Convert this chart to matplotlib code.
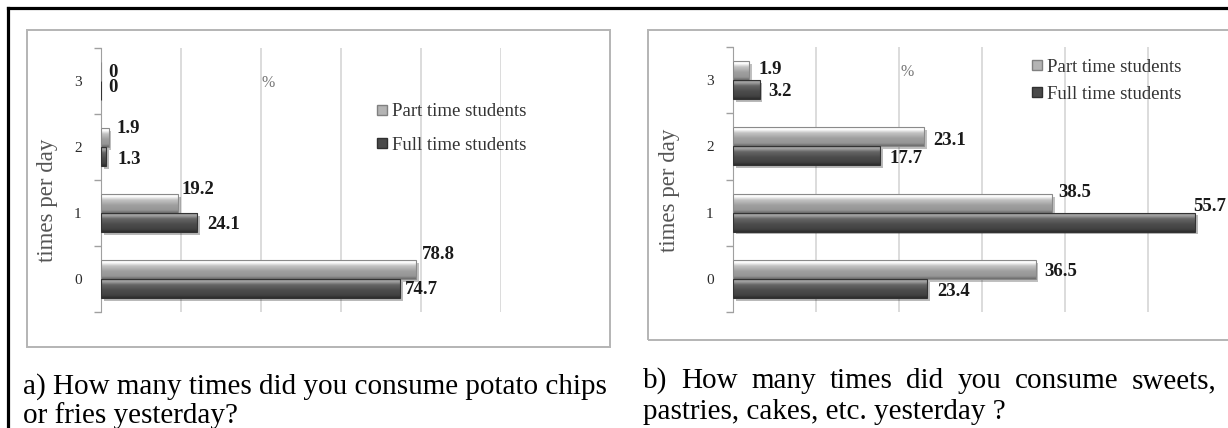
import numpy as np
import matplotlib.pyplot as plt
import matplotlib.patheffects as pe
from matplotlib.colors import LinearSegmentedColormap
from matplotlib.lines import Line2D
from matplotlib.patches import Rectangle

plt.rcParams['font.family'] = ['Liberation Serif', 'DejaVu Serif']

W, H = 1228, 428

# --- Data ---
categories   = ["0", "1", "2", "3"]
series_names = ["Part time students", "Full time students"]
chips_part   = [78.8, 19.2, 1.9, 0.0]
chips_full   = [74.7, 24.1, 1.3, 0.0]
sweets_part  = [36.5, 38.5, 23.1, 1.9]
sweets_full  = [23.4, 55.7, 17.7, 3.2]
caption_a = ["a) How many times did you consume potato chips", "or fries yesterday?"]
caption_b = ["b) How many times did you consume sweets,", "pastries, cakes, etc. yesterday ?"]

# label nudges in pixels (dx from bar end, dy from bar centre)
chips_part_off  = [(6, 15), (4, 14), (8, 9.5), (7, -0.5)]
chips_full_off  = [(5, -1), (10, -2), (11, -3.5), (7, 2.5)]
sweets_part_off = [(9, -1.7), (6, 11), (8.5, -3.5), (10, 1.5)]
sweets_full_off = [(10, -2.7), (-1.5, 16), (10, -2.5), (8.5, -1.5)]

BAR_H = 0.285
part_cmap = LinearSegmentedColormap.from_list(
    "part", [(0, "#f4f4f4"), (0.12, "#ffffff"), (0.3, "#c4c4c4"),
             (0.6, "#9e9e9e"), (0.85, "#969696"), (1, "#6a6a6a")])
full_cmap = LinearSegmentedColormap.from_list(
    "full", [(0, "#8a8a8a"), (0.12, "#a4a4a4"), (0.3, "#666666"),
             (0.6, "#4c4c4c"), (0.85, "#424242"), (1, "#2c2c2c")])
grad = np.linspace(0, 1, 64).reshape(-1, 1)


def fx(x): return x / W
def fy(y): return 1 - y / H


def draw_series(ax, vals, offset, cmap, edge, offs):
    ypos = np.arange(len(categories)) + offset
    bars = ax.barh(ypos, vals, height=BAR_H, color=cmap(0.6), lw=0, zorder=2,
                   path_effects=[pe.SimplePatchShadow(offset=(2, -2), alpha=0.3),
                                 pe.Normal()])
    for b in bars:
        x0, y0, w, h = b.get_x(), b.get_y(), b.get_width(), b.get_height()
        if w <= 0:
            continue
        im = ax.imshow(grad, cmap=cmap, aspect="auto", interpolation="bilinear",
                       extent=(x0, x0 + w, y0, y0 + h), zorder=3)
        im.set_clip_path(b)
    ax.barh(ypos, vals, height=BAR_H, fill=False, edgecolor=edge, lw=0.8, zorder=4)
    for v, yy, (dx, dy) in zip(vals, ypos, offs):
        ax.annotate(f"{v:g}", (v, yy), xytext=(dx, dy), textcoords="offset pixels",
                    ha="left", va="center", fontsize=13.5, fontweight="bold",
                    color="#1a1a1a", zorder=5)


def style_axes(ax, xmax, step):
    ax.set_xlim(0, xmax)
    ax.set_ylim(-0.5, len(categories) - 0.5)
    ax.set_xticks(np.arange(step, xmax + 0.01, step))
    ax.tick_params(axis="x", length=0, labelbottom=False)
    ax.grid(axis="x", color="#d6d6d6", lw=1.2, zorder=0)
    ax.set_yticks(range(len(categories)))
    ax.set_yticklabels(categories)
    ax.set_yticks(np.arange(-0.5, len(categories)), minor=True)
    ax.tick_params(axis="y", which="major", length=0, pad=14, labelsize=11,
                   labelcolor="#2a2a2a")
    ax.tick_params(axis="y", which="minor", length=5, color="#a0a0a0", width=1)
    for s in ["top", "right", "bottom"]:
        ax.spines[s].set_visible(False)
    ax.spines["left"].set_color("#a0a0a0")
    ax.set_facecolor("none")


fig = plt.figure(figsize=(W / 100, H / 100), dpi=100)

# outer page borders and chart frames
fig.add_artist(Line2D([fx(8), 1], [fy(7.5), fy(7.5)], color="black", lw=2.3,
                      transform=fig.transFigure))
fig.add_artist(Line2D([fx(8), fx(8)], [fy(7.5), 0], color="black", lw=2.3,
                      transform=fig.transFigure))
fig.add_artist(Rectangle((fx(27), fy(347)), (610 - 27) / W, (347 - 30) / H,
                         fill=False, ec="#b4b4b4", lw=1.4, transform=fig.transFigure))
fig.add_artist(Rectangle((fx(648), fy(340)), (1240 - 648) / W, (340 - 30) / H,
                         fill=False, ec="#b4b4b4", lw=1.4, transform=fig.transFigure))

# --- a) potato chips ---
ax1 = fig.add_axes([fx(101), fy(312), 400 / W, 264 / H])
style_axes(ax1, 100, 20)
draw_series(ax1, chips_part, BAR_H / 2, part_cmap, "#8a8a8a", chips_part_off)
draw_series(ax1, chips_full, -BAR_H / 2, full_cmap, "#333333", chips_full_off)
style_axes(ax1, 100, 20)

# --- b) sweets ---
ax2 = fig.add_axes([fx(733), fy(312), 495 / W, 265 / H])
xmax2 = 495 / 8.29
style_axes(ax2, xmax2, 10)
draw_series(ax2, sweets_part, BAR_H / 2, part_cmap, "#8a8a8a", sweets_part_off)
draw_series(ax2, sweets_full, -BAR_H / 2, full_cmap, "#333333", sweets_full_off)
style_axes(ax2, xmax2, 10)
ax2.set_xticks(np.arange(10, 51, 10))

handles = [Line2D([], [], marker="s", ls="none", markersize=6.5,
                  markerfacecolor="#b4b4b4", markeredgecolor="#808080"),
           Line2D([], [], marker="s", ls="none", markersize=6.5,
                  markerfacecolor="#4a4a4a", markeredgecolor="#303030")]
fig.legend(handles, series_names, loc="upper left", frameon=False,
           bbox_to_anchor=(fx(367), fy(94)), bbox_transform=fig.transFigure,
           fontsize=13.5, handlelength=0.6, handletextpad=0.25, borderpad=0,
           labelspacing=0.85, labelcolor="#333333")
fig.legend(handles, series_names, loc="upper left", frameon=False,
           bbox_to_anchor=(fx(1022), fy(49)), bbox_transform=fig.transFigure,
           fontsize=13.5, handlelength=0.6, handletextpad=0.25, borderpad=0,
           labelspacing=0.55, labelcolor="#333333")

fig.text(fx(268), fy(83), "%", ha="center", va="center", fontsize=11.5, color="#777777")
fig.text(fx(907), fy(72), "%", ha="center", va="center", fontsize=11.5, color="#777777")
fig.text(fx(48), fy(200), "times per day", rotation=90, ha="center", va="center",
         fontsize=16.5, color="#555555")
fig.text(fx(669), fy(190), "times per day", rotation=90, ha="center", va="center",
         fontsize=16.5, color="#555555")

# captions
cap_kw = dict(fontsize=21, color="black", va="baseline", ha="left")
fig.text(fx(23), fy(394), caption_a[0], **cap_kw)
fig.text(fx(23), fy(423), caption_a[1], **cap_kw)

renderer = fig.canvas.get_renderer()
words = caption_b[0].split()
arts = [fig.text(0, fy(388), w, **cap_kw) for w in words]
widths = [a.get_window_extent(renderer).width for a in arts]
gap = (1217 - 643 - sum(widths)) / (len(words) - 1)
x = 643
for a, w in zip(arts, widths):
    a.set_x(fx(x))
    x += w + gap
fig.text(fx(643), fy(419), caption_b[1], **cap_kw)

fig.savefig("out.png", dpi=100)
